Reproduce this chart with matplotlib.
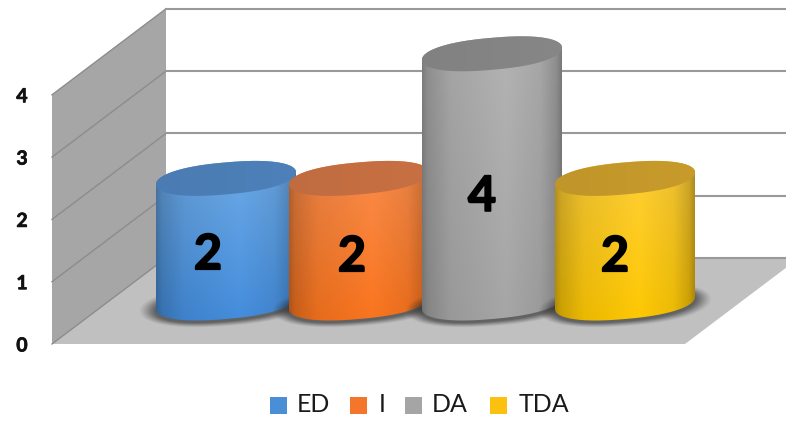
import numpy as np
import matplotlib
matplotlib.use('Agg')
import matplotlib.pyplot as plt
import matplotlib.patheffects as pe
from matplotlib.patches import Polygon, Rectangle

# ---------- Data ----------
categories = ['ED', 'I', 'DA', 'TDA']
values = [2, 2, 4, 2]
y_ticks = [0, 1, 2, 3, 4]

# ---------- Style ----------
plt.rcParams['font.family'] = ['Lato', 'DejaVu Sans']

body_top = [(112, 172, 232), (250, 142, 78), (180, 180, 180), (255, 208, 60)]
body_bot = [(66, 140, 220), (250, 116, 28), (166, 166, 166), (255, 200, 0)]
lid_col = [(76, 126, 182), (196, 110, 66), (132, 132, 132), (196, 152, 42)]
legend_col = ['#4a8fd6', '#f4762a', '#a5a5a5', '#fcc00e']

unit = 62.3            # pixels for one value unit
depth = 86 / unit      # floor depth
bar_base = 41 / unit   # bars stand this far behind the front edge
half_w = 70
lid_h = 16 / unit
lid_k = 6 / unit
bar_x = [226, 359, 492, 625]
label_dx = [-18, -7, -10, -10]
label_dy = [-14, -16, -18, -16]
legend_box_x = [270, 350, 405, 490]
legend_text_x = [297, 379, 432, 519]

fig = plt.figure(figsize=(7.86, 4.21), dpi=100)
ax = fig.add_axes([0, 0, 1, 1])
xlim = (0, 786)
ylim = ((344 - 421) / unit, 344 / unit)
ax.axis('off')


def ellipse(cx, cy, w, h, k, t0=0, t1=2 * np.pi, n=160):
    # squarish ellipse, sheared so the right end sits higher
    t = np.linspace(t0, t1, n)
    c = np.sign(np.cos(t)) * np.abs(np.cos(t)) ** 0.85
    s = np.sign(np.sin(t)) * np.abs(np.sin(t)) ** 0.95
    return np.column_stack([cx + w * c, cy + h * s + k * c])


def shaded(points, x0, x1, y0, y1, c_top, c_bot, prof_x, prof_v, z):
    # horizontal shading times a vertical colour blend, clipped to the outline
    u = np.linspace(0, 1, 200)
    shade = np.interp(u, prof_x, prof_v)
    v = np.linspace(0, 1, 100)[:, None, None]
    col = (np.array(c_top) * (1 - v) + np.array(c_bot) * v) * shade[None, :, None]
    img = ax.imshow(np.clip(col, 0, 255).astype(np.uint8), extent=[x0, x1, y0, y1],
                    aspect='auto', zorder=z, interpolation='bilinear')
    clip = Polygon(points, closed=True, fc='none', ec='none', transform=ax.transData)
    ax.add_patch(clip)
    img.set_clip_path(clip)


# ---------- Walls and floor ----------
front_x, back_x = 52, 166
wall = [(front_x, 0), (back_x, depth), (back_x, depth + 4), (front_x, 4)]
ax.add_patch(Polygon(wall, fc='#a6a6a6', ec='none', zorder=1))
floor = [(front_x, 0), (back_x, depth), (799, depth), (685, 0)]
ax.add_patch(Polygon(floor, fc='#c0c0c0', ec='none', zorder=1))

for t in y_ticks:
    ax.plot([front_x, back_x], [t, t + depth], color='#8c8c8c', lw=1.0, zorder=2)
    ax.plot([back_x, 786], [t + depth, t + depth], color='#999999', lw=1.5, zorder=2)
    ax.text(22, t - 2 / unit, str(t), ha='center', va='center', fontsize=14,
            fontweight='bold', color='#111111', zorder=6,
            path_effects=[pe.withStroke(linewidth=0.5, foreground='#111111')])

# ---------- Cylinders ----------
for i, val in enumerate(values):
    cx = bar_x[i]
    z = 3 + i * 0.1

    # soft shadow on the floor
    for grow, a in zip(np.linspace(20, 2, 9), np.linspace(0.05, 0.16, 9)):
        pts = ellipse(cx, bar_base - 2 / unit, half_w + grow * 0.8, lid_h + grow * 0.25 / unit,
                      lid_k)
        ax.add_patch(Polygon(pts, fc='#303030', ec='none', alpha=a, zorder=z))

    low = ellipse(cx, bar_base, half_w, lid_h, lid_k, np.pi, 2 * np.pi)
    high = ellipse(cx, bar_base + val, half_w, lid_h, lid_k, 0, np.pi)
    outline = np.vstack([low, high])
    shaded(outline, cx - half_w, cx + half_w, bar_base - 0.4, bar_base + val + 0.4,
           body_top[i], body_bot[i],
           [0, 0.04, 0.2, 0.6, 0.85, 0.96, 1], [0.7, 0.8, 0.92, 1.0, 0.93, 0.8, 0.68], z + 0.01)

    lid = ellipse(cx, bar_base + val, half_w, lid_h, lid_k)
    shaded(lid, cx - half_w, cx + half_w, bar_base + val - 0.4, bar_base + val + 0.4,
           lid_col[i], lid_col[i], [0, 0.5, 1], [0.98, 1.0, 1.02], z + 0.02)

    ax.text(cx + label_dx[i], bar_base + val / 2 + label_dy[i] / unit, str(val), ha='center',
            va='center', fontsize=35, fontweight='bold', color='black', zorder=6,
            path_effects=[pe.withStroke(linewidth=1.3, foreground='black')])

# ---------- Legend ----------
for i, name in enumerate(categories):
    ax.add_patch(Rectangle((legend_box_x[i], (344 - 414) / unit), 17, 17 / unit,
                           fc=legend_col[i], ec='none', zorder=6))
    ax.text(legend_text_x[i], (344 - 405) / unit, name, ha='left', va='center',
            fontsize=18, color='#1a1a1a', zorder=6)

ax.set_xlim(*xlim)
ax.set_ylim(*ylim)
fig.savefig('out.png', dpi=100, facecolor='white')
